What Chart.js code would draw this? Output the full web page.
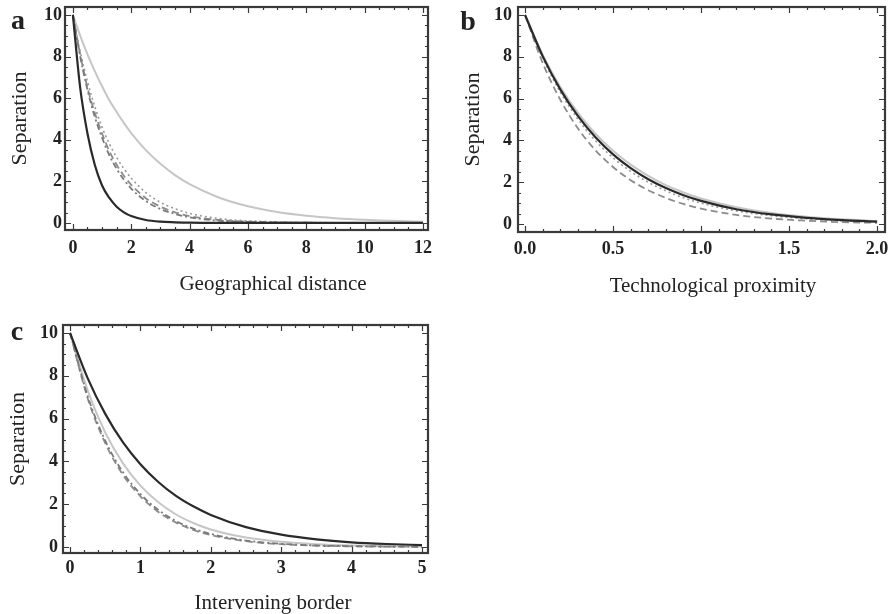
<!DOCTYPE html>
<html>
<head>
<meta charset="utf-8">
<script src="https://cdn.jsdelivr.net/npm/chart.js@4.4.1/dist/chart.umd.min.js"></script>
<style>
    body { margin: 0; background: #fff; }
    #wrap { position: relative; width: 892px; height: 614px; font-family: 'Liberation Serif', serif; color: #222; }
    canvas { position: absolute; }
    .panel-letter { position: absolute; font-weight: bold; font-size: 28px; line-height: 1; transform: translate(-50%, -50%); }
    .x-title { position: absolute; font-size: 21px; line-height: 1; white-space: nowrap; transform: translate(-50%, -50%); }
</style>
</head>
<body>
<div id="wrap">
    <canvas id="chart-a" width="440" height="300" style="left:0;top:0"></canvas>
    <canvas id="chart-b" width="452" height="300" style="left:440px;top:0"></canvas>
    <canvas id="chart-c" width="440" height="314" style="left:0;top:300px"></canvas>

    <div class="panel-letter" style="left:18px;top:20px">a</div>
    <div class="panel-letter" style="left:468px;top:21px">b</div>
    <div class="panel-letter" style="left:17px;top:331px">c</div>

    <div class="x-title" style="left:273px;top:283px">Geographical distance</div>
    <div class="x-title" style="left:713px;top:285px">Technological proximity</div>
    <div class="x-title" style="left:273px;top:602px">Intervening border</div>
</div>

<script>
// panel a - geographical distance
var geoX = [0, 0.25, 0.5, 0.75, 1, 1.25, 1.5, 1.75, 2, 2.5, 3, 3.5, 4, 5, 6, 7, 8, 9, 10, 11, 12];
var geoDark = [10, 6.5, 4.3, 2.8, 1.8, 1.2, 0.78, 0.51, 0.33, 0.14, 0.06, 0.03, 0.01, 0, 0, 0, 0, 0, 0, 0, 0];
var geoDashDot = [10, 8.0, 6.4, 5.1, 4.1, 3.25, 2.6, 2.07, 1.65, 1.05, 0.67, 0.43, 0.27, 0.11, 0.05, 0.02, 0.01, 0, 0, 0, 0];
var geoDashed = [10, 8.1, 6.5, 5.3, 4.3, 3.45, 2.8, 2.26, 1.83, 1.19, 0.78, 0.51, 0.33, 0.14, 0.06, 0.03, 0.01, 0, 0, 0, 0];
var geoDotted = [10, 8.25, 6.8, 5.6, 4.6, 3.8, 3.15, 2.6, 2.15, 1.46, 0.99, 0.68, 0.46, 0.21, 0.1, 0.05, 0.02, 0.01, 0, 0, 0];
var geoLight = [10, 9.0, 8.1, 7.3, 6.57, 5.9, 5.33, 4.8, 4.32, 3.5, 2.84, 2.3, 1.86, 1.22, 0.8, 0.53, 0.35, 0.23, 0.15, 0.1, 0.06];
var geoTicksX = [0, 2, 4, 6, 8, 10, 12];

// panel b - technological proximity
var techX = [0, 0.1, 0.2, 0.3, 0.4, 0.5, 0.6, 0.7, 0.8, 0.9, 1.0, 1.2, 1.4, 1.6, 1.8, 2.0];
var techDark = [10, 8.03, 6.44, 5.17, 4.15, 3.33, 2.67, 2.14, 1.72, 1.38, 1.11, 0.71, 0.46, 0.3, 0.19, 0.12];
var techLight = [10, 8.1, 6.57, 5.33, 4.32, 3.5, 2.84, 2.3, 1.86, 1.51, 1.22, 0.8, 0.53, 0.35, 0.23, 0.15];
var techDotted = [10, 7.94, 6.31, 5.02, 3.98, 3.17, 2.52, 2.0, 1.59, 1.26, 1.0, 0.63, 0.4, 0.25, 0.16, 0.1];
var techDashed = [10, 7.71, 5.95, 4.58, 3.53, 2.73, 2.1, 1.62, 1.25, 0.96, 0.74, 0.44, 0.26, 0.16, 0.09, 0.06];
var techTicksX = [0, 0.5, 1.0, 1.5, 2.0];

// panel c - intervening border
var borderX = [0, 0.25, 0.5, 0.75, 1, 1.25, 1.5, 1.75, 2, 2.5, 3, 3.5, 4, 4.5, 5];
var borderDark = [10, 7.89, 6.22, 4.9, 3.87, 3.05, 2.4, 1.9, 1.5, 0.93, 0.58, 0.36, 0.22, 0.14, 0.09];
var borderLight = [10, 7.32, 5.35, 3.92, 2.87, 2.1, 1.53, 1.12, 0.82, 0.44, 0.24, 0.13, 0.07, 0.04, 0.02];
var borderDashDot = [10, 7.05, 4.97, 3.5, 2.47, 1.74, 1.22, 0.86, 0.61, 0.3, 0.15, 0.07, 0.04, 0.02, 0.01];
var borderDashed = [10, 6.95, 4.85, 3.38, 2.37, 1.65, 1.15, 0.8, 0.56, 0.27, 0.13, 0.06, 0.03, 0.02, 0.01];
var borderTicksX = [0, 1, 2, 3, 4, 5];

var separationTicks = [0, 2, 4, 6, 8, 10];

var lineStyles = {
    dark: { borderColor: '#2a2a2a', borderWidth: 2.2, borderDash: [] },
    light: { borderColor: '#c6c6c6', borderWidth: 2, borderDash: [] },
    dashed: { borderColor: '#8c8c8c', borderWidth: 1.8, borderDash: [7, 4] },
    dotted: { borderColor: '#9a9a9a', borderWidth: 1.6, borderDash: [2, 3] },
    dashDot: { borderColor: '#7a7a7a', borderWidth: 1.8, borderDash: [6, 3, 2, 3] }
};

function toPoints(xs, ys) {
    return xs.map(function (x, i) { return { x: x, y: ys[i] }; });
}

function makeDataset(xs, ys, style) {
    let s = lineStyles[style];
    return {
        data: toPoints(xs, ys),
        borderColor: s.borderColor,
        borderWidth: s.borderWidth,
        borderDash: s.borderDash,
        pointRadius: 0,
        fill: false,
        cubicInterpolationMode: 'monotone'
    };
}

// frame with inward ticks on all four sides (mathematica style)
var frameTicksPlugin = {
    id: 'frameTicks',
    afterDatasetsDraw: function (chart) {
        let o = chart.options.plugins.frameTicks;
        let ctx = chart.ctx;
        let a = chart.chartArea;
        let xs = chart.scales.x;
        let ys = chart.scales.y;

        ctx.save();
        ctx.strokeStyle = '#3a3a3a';
        ctx.lineWidth = 1.2;
        ctx.beginPath();

        function tickX(v, len) {
            let p = Math.round(xs.getPixelForValue(v)) + 0.5;
            ctx.moveTo(p, a.bottom); ctx.lineTo(p, a.bottom - len);
            ctx.moveTo(p, a.top); ctx.lineTo(p, a.top + len);
        }
        function tickY(v, len) {
            let p = Math.round(ys.getPixelForValue(v)) + 0.5;
            ctx.moveTo(a.left, p); ctx.lineTo(a.left + len, p);
            ctx.moveTo(a.right, p); ctx.lineTo(a.right - len, p);
        }

        let i, v;
        for (i = 0; ; i++) {
            v = o.xMajor[0] + i * o.xMinor;
            if (v > xs.max) break;
            tickX(v, 3);
        }
        for (i = 0; ; i++) {
            v = i * o.yMinor;
            if (v > ys.max) break;
            tickY(v, 3);
        }
        o.xMajor.forEach(function (t) { tickX(t, 6); });
        separationTicks.forEach(function (t) { tickY(t, 6); });
        ctx.stroke();

        ctx.lineWidth = 2.2;
        ctx.strokeRect(a.left, a.top, a.right - a.left, a.bottom - a.top);
        ctx.restore();
    }
};

function initializePanel(canvasId, datasets, cfg) {
    let ctx = document.getElementById(canvasId).getContext('2d');

    return new Chart(ctx, {
        type: 'line',
        data: { datasets: datasets },
        plugins: [frameTicksPlugin],
        options: {
            responsive: false,
            animation: false,
            events: [],
            layout: { padding: { left: 0, top: cfg.padTop, right: cfg.padRight, bottom: 0 } },
            plugins: {
                legend: { display: false },
                tooltip: { enabled: false },
                frameTicks: { xMajor: cfg.ticksX, xMinor: cfg.xMinor, yMinor: 0.5 }
            },
            scales: {
                x: {
                    type: 'linear',
                    min: cfg.xMin,
                    max: cfg.xMax,
                    grid: { display: false, drawTicks: false },
                    border: { display: false },
                    afterBuildTicks: function (axis) {
                        axis.ticks = cfg.ticksX.map(function (v) { return { value: v }; });
                    },
                    afterFit: function (axis) {
                        axis.height = cfg.xHeight;
                        axis.paddingLeft = 0;
                        axis.paddingRight = 0;
                    },
                    ticks: {
                        color: '#222',
                        padding: cfg.xPad,
                        maxRotation: 0,
                        font: { family: 'Liberation Serif', size: 18, weight: 'bold' },
                        callback: function (value) {
                            return cfg.decimals ? value.toFixed(cfg.decimals) : value;
                        }
                    }
                },
                y: {
                    type: 'linear',
                    min: cfg.yMin,
                    max: cfg.yMax,
                    grid: { display: false, drawTicks: false },
                    border: { display: false },
                    afterBuildTicks: function (axis) {
                        axis.ticks = separationTicks.map(function (v) { return { value: v }; });
                    },
                    afterFit: function (axis) {
                        axis.width = cfg.yWidth;
                        axis.paddingTop = 0;
                        axis.paddingBottom = 0;
                    },
                    ticks: {
                        color: '#222',
                        padding: cfg.yPad,
                        font: { family: 'Liberation Serif', size: 18, weight: 'bold' }
                    },
                    title: {
                        display: true,
                        text: 'Separation',
                        color: '#222',
                        padding: { top: cfg.titlePad, bottom: 0 },
                        font: { family: 'Liberation Serif', size: 22 }
                    }
                }
            }
        }
    });
}

initializePanel('chart-a', [
    makeDataset(geoX, geoDark, 'dark'),
    makeDataset(geoX, geoDashDot, 'dashDot'),
    makeDataset(geoX, geoDashed, 'dashed'),
    makeDataset(geoX, geoDotted, 'dotted'),
    makeDataset(geoX, geoLight, 'light')
], {
    padTop: 7, padRight: 12, xHeight: 70, yWidth: 65, xPad: 8, yPad: 3, titlePad: 7,
    xMin: -0.27, xMax: 12.17, yMin: -0.34, yMax: 10.38,
    ticksX: geoTicksX, xMinor: 0.5, decimals: 0
});

initializePanel('chart-b', [
    makeDataset(techX, techDark, 'dark'),
    makeDataset(techX, techDotted, 'dotted'),
    makeDataset(techX, techDashed, 'dashed'),
    makeDataset(techX, techLight, 'light')
], {
    padTop: 7, padRight: 7, xHeight: 68, yWidth: 78, xPad: 7, yPad: 6, titlePad: 20,
    xMin: -0.04, xMax: 2.045, yMin: -0.38, yMax: 10.38,
    ticksX: techTicksX, xMinor: 0.1, decimals: 1
});

initializePanel('chart-c', [
    makeDataset(borderX, borderDark, 'dark'),
    makeDataset(borderX, borderDashDot, 'dashDot'),
    makeDataset(borderX, borderDashed, 'dashed'),
    makeDataset(borderX, borderLight, 'light')
], {
    padTop: 25, padRight: 12, xHeight: 61, yWidth: 63, xPad: 5, yPad: 5, titlePad: 5,
    xMin: -0.1, xMax: 5.085, yMin: -0.28, yMax: 10.37,
    ticksX: borderTicksX, xMinor: 0.2, decimals: 0
});
</script>
</body>
</html>
